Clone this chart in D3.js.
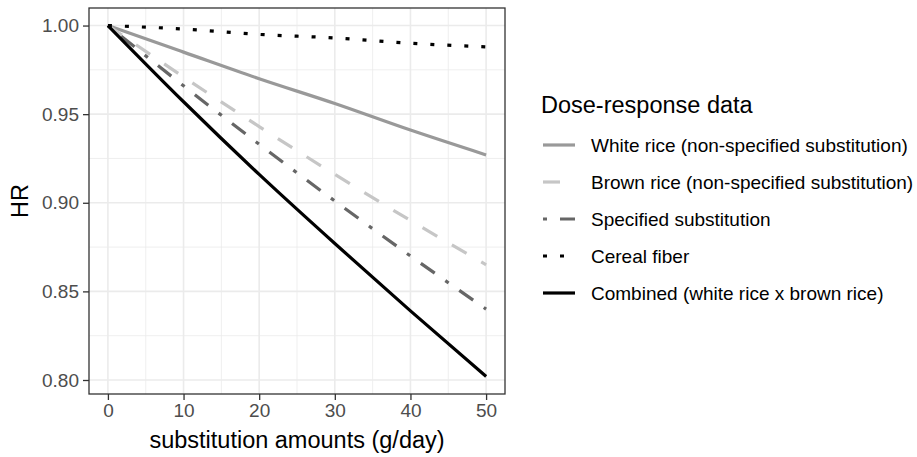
<!DOCTYPE html>
<html>
<head>
<meta charset="utf-8">
<script src="https://cdn.jsdelivr.net/npm/d3@7"></script>
<style>
body { margin: 0; background: #fff; }
svg { font-family: "Liberation Sans", Arial, sans-serif; }
</style>
</head>
<body>
<div id="chart"></div>
<script>
// substitution amounts (g/day)
var amounts = [0, 10, 20, 30, 40, 50];

// HR values
var whiteRice = [1.000, 0.985, 0.970, 0.956, 0.941, 0.927];
var brownRice = [1.000, 0.971, 0.943, 0.916, 0.890, 0.865];
var specified = [1.000, 0.966, 0.933, 0.901, 0.870, 0.840];
var cerealFiber = [1.000, 0.998, 0.995, 0.993, 0.990, 0.988];
var combined = [1.000, 0.957, 0.916, 0.877, 0.839, 0.802];

var seriesNames = [
    "White rice (non-specified substitution)",
    "Brown rice (non-specified substitution)",
    "Specified substitution",
    "Cereal fiber",
    "Combined (white rice x brown rice)"
];
var xTicks = [0, 10, 20, 30, 40, 50];
var yTicks = [0.80, 0.85, 0.90, 0.95, 1.00];

var series = [
    {name: seriesNames[0], values: whiteRice, color: "#999999", dash: null},
    {name: seriesNames[1], values: brownRice, color: "#c6c6c6", dash: "17,17"},
    {name: seriesNames[2], values: specified, color: "#666666", dash: "4,13,17,13"},
    {name: seriesNames[3], values: cerealFiber, color: "#000000", dash: "4,13"},
    {name: seriesNames[4], values: combined, color: "#000000", dash: null}
];

var W = 917, H = 457;
var pLeft = 89, pRight = 505, pTop = 8, pBottom = 394;

var svg = d3.select("#chart").append("svg").attr("width", W).attr("height", H);

// ggplot style 5% expansion
var xExt = d3.extent(amounts);
var xPad = (xExt[1] - xExt[0]) * 0.05;
var x = d3.scaleLinear().domain([xExt[0] - xPad, xExt[1] + xPad]).range([pLeft, pRight]);

var allY = [].concat(whiteRice, brownRice, specified, cerealFiber, combined);
var yExt = d3.extent(allY);
var yPad = (yExt[1] - yExt[0]) * 0.05;
var y = d3.scaleLinear().domain([yExt[0] - yPad, yExt[1] + yPad]).range([pBottom, pTop]);

// grid
var g = svg.append("g");
var xMinor = [5, 15, 25, 35, 45];
var yMinor = [0.825, 0.875, 0.925, 0.975];

g.selectAll(".xminor").data(xMinor).enter().append("line")
    .attr("x1", function(d){ return x(d); }).attr("x2", function(d){ return x(d); })
    .attr("y1", pTop).attr("y2", pBottom)
    .attr("stroke", "#ebebeb").attr("stroke-width", 0.8);
g.selectAll(".yminor").data(yMinor).enter().append("line")
    .attr("y1", function(d){ return y(d); }).attr("y2", function(d){ return y(d); })
    .attr("x1", pLeft).attr("x2", pRight)
    .attr("stroke", "#ebebeb").attr("stroke-width", 0.8);
g.selectAll(".xmajor").data(xTicks).enter().append("line")
    .attr("x1", function(d){ return x(d); }).attr("x2", function(d){ return x(d); })
    .attr("y1", pTop).attr("y2", pBottom)
    .attr("stroke", "#ebebeb").attr("stroke-width", 1.6);
g.selectAll(".ymajor").data(yTicks).enter().append("line")
    .attr("y1", function(d){ return y(d); }).attr("y2", function(d){ return y(d); })
    .attr("x1", pLeft).attr("x2", pRight)
    .attr("stroke", "#ebebeb").attr("stroke-width", 1.6);

// lines
var line = d3.line()
    .x(function(d, i){ return x(amounts[i]); })
    .y(function(d){ return y(d); })
    .curve(d3.curveMonotoneX);

svg.append("g").selectAll("path").data(series).enter().append("path")
    .attr("d", function(s){ return line(s.values); })
    .attr("fill", "none")
    .attr("stroke", function(s){ return s.color; })
    .attr("stroke-width", 3.2)
    .attr("stroke-dasharray", function(s){ return s.dash; });

// panel border
svg.append("rect")
    .attr("x", pLeft).attr("y", pTop)
    .attr("width", pRight - pLeft).attr("height", pBottom - pTop)
    .attr("fill", "none").attr("stroke", "#333333").attr("stroke-width", 1.3);

// axes
var xAxis = svg.append("g").attr("transform", "translate(0," + pBottom + ")")
    .call(d3.axisBottom(x).tickValues(xTicks).tickSize(6).tickPadding(4).tickFormat(d3.format("d")));
var yAxis = svg.append("g").attr("transform", "translate(" + pLeft + ",0)")
    .call(d3.axisLeft(y).tickValues(yTicks).tickSize(6).tickPadding(4).tickFormat(d3.format(".2f")));

[xAxis, yAxis].forEach(function(a){
    a.select(".domain").remove();
    a.selectAll(".tick line").attr("stroke", "#333333").attr("stroke-width", 1.3);
    a.selectAll(".tick text").attr("fill", "#4d4d4d").style("font-size", "19px")
        .style("font-family", "'Liberation Sans', Arial, sans-serif");
});

svg.append("text")
    .attr("x", (pLeft + pRight) / 2).attr("y", 448)
    .attr("text-anchor", "middle")
    .style("font-size", "23.5px")
    .text("substitution amounts (g/day)");

svg.append("text")
    .attr("transform", "translate(28," + ((pTop + pBottom) / 2) + ") rotate(-90)")
    .attr("text-anchor", "middle")
    .style("font-size", "23.5px")
    .text("HR");

// legend
var lg = svg.append("g");
lg.append("text").attr("x", 541).attr("y", 113)
    .style("font-size", "23.5px")
    .text("Dose-response data");

var rows = lg.selectAll(".row").data(series).enter().append("g")
    .attr("transform", function(d, i){ return "translate(0," + (145 + i * 37) + ")"; });
rows.append("line")
    .attr("x1", 543).attr("x2", 575).attr("y1", 0).attr("y2", 0)
    .attr("stroke", function(s){ return s.color; })
    .attr("stroke-width", 3.2)
    .attr("stroke-dasharray", function(s){ return s.dash; });
rows.append("text")
    .attr("x", 591).attr("y", 7)
    .style("font-size", "19px")
    .text(function(s){ return s.name; });
</script>
</body>
</html>
